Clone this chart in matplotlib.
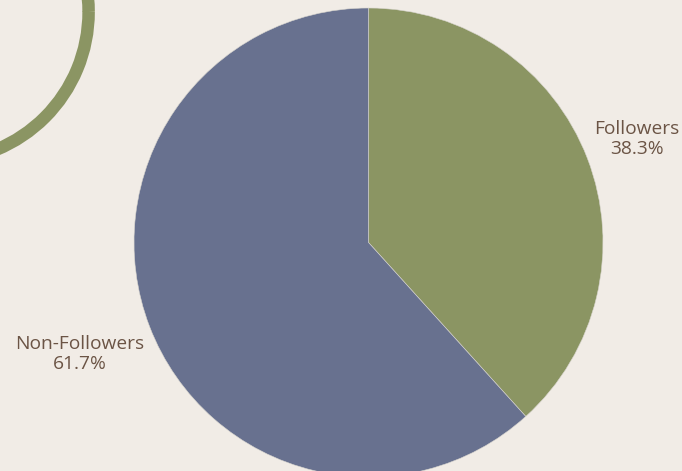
import numpy as np
import matplotlib
matplotlib.use("Agg")
import matplotlib.pyplot as plt
from matplotlib.patches import Arc

labels = ["Followers", "Non-Followers"]
values = [38.3, 61.7]
colors = ["#8B9563", "#68718F"]
bg = "#F1ECE6"
text_color = "#6B5445"

W, H = 682, 471
fig = plt.figure(figsize=(W / 100, H / 100), dpi=100, facecolor=bg)
ax = fig.add_axes([0, 0, 1, 1])
ax.set_facecolor(bg)

cx, cy, r = 368.5, H - 242.5, 234.5
wedges, _ = ax.pie(values, colors=colors, startangle=90, counterclock=False,
                   center=(cx, cy), radius=r,
                   wedgeprops=dict(edgecolor="#d9d6cf", linewidth=0.4))

# labels outside the wedges
start = 90.0
dists = [1.228, 1.32]
for val, lab, d in zip(values, labels, dists):
    span = val / sum(values) * 360.0
    mid = np.deg2rad(start - span / 2)
    start -= span
    x = cx + d * r * np.cos(mid)
    y = cy + d * r * np.sin(mid)
    ax.text(x, y, f"{lab}\n{val:.1f}%", ha="center", va="center",
            fontsize=13.8, color=text_color, family=["Open Sans", "DejaVu Sans"],
            linespacing=1.12)

# decorative ring in top-left corner
ring = Arc((-60.4, H - 11.9), 2 * 149, 2 * 149, linewidth=9,
           color="#8B9563")
ax.add_patch(ring)

ax.set_xlim(0, W)
ax.set_ylim(0, H)
ax.set_aspect("equal")
ax.axis("off")
fig.savefig("out.png", dpi=100, facecolor=bg)
